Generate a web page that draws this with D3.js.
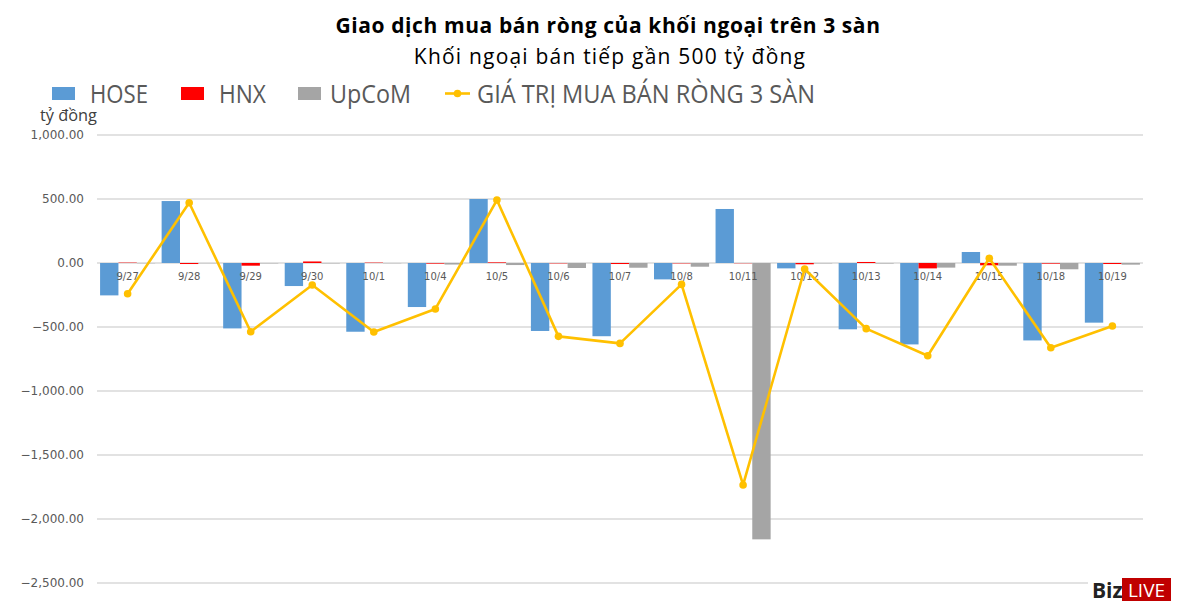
<!DOCTYPE html>
<html>
<head>
<meta charset="utf-8">
<script src="https://cdn.jsdelivr.net/npm/d3@7"></script>
<style>
  body { margin: 0; background: #fff; }
  svg { display: block; }
</style>
</head>
<body>
<div id="chart"></div>
<script>
// dates of the trading sessions
const dates = ['9/27', '9/28', '9/29', '9/30', '10/1', '10/4', '10/5', '10/6', '10/7',
    '10/8', '10/11', '10/12', '10/13', '10/14', '10/15', '10/18', '10/19'];

// net buy/sell per exchange, tỷ đồng
const hose = [-253, 484, -511, -180, -537, -344, 500, -531, -572, -128, 422, -42, -518, -636, 86, -605, -466];
const hnx = [3, -8, -21, 12, 3, -5, 5, -3, -8, -3, -2, -10, 8, -42, -18, -5, -8];
const upcom = [-2, -2, -3, -3, -2, -12, -16, -39, -37, -29, -2159, -3, -4, -36, -21, -49, -13];
const total = [-240, 471, -537, -172, -539, -359, 492, -573, -628, -167, -1734, -47, -513, -725, 37, -662, -492];

const yTicks = [1000, 500, 0, -500, -1000, -1500, -2000, -2500];

const series = [
    {name: 'HOSE', values: hose, color: '#5B9BD5'},
    {name: 'HNX', values: hnx, color: '#FF0000'},
    {name: 'UpCoM', values: upcom, color: '#A5A5A5'}
];
const lineName = 'GIÁ TRỊ MUA BÁN RÒNG 3 SÀN';
const lineColor = '#FFC000';

const width = 1200;
const height = 615;
const margin = {left: 97, right: 57, top: 135, bottom: 32};

const svg = d3.select('#chart').append('svg')
    .attr('width', width)
    .attr('height', height);

// title block
svg.append('text')
    .attr('x', 608).attr('y', 33)
    .attr('text-anchor', 'middle')
    .style('font-family', 'Open Sans, sans-serif')
    .style('font-weight', 'bold')
    .style('font-size', '21px')
    .style('letter-spacing', '0.6px')
    .attr('fill', '#000')
    .text('Giao dịch mua bán ròng của khối ngoại trên 3 sàn');

svg.append('text')
    .attr('x', 610).attr('y', 64)
    .attr('text-anchor', 'middle')
    .style('font-family', 'Open Sans, sans-serif')
    .style('font-size', '21px')
    .style('letter-spacing', '1.2px')
    .attr('fill', '#000')
    .text('Khối ngoại bán tiếp gần 500 tỷ đồng');

const x = d3.scaleBand()
    .domain(dates)
    .range([margin.left, width - margin.right])
    .paddingInner(0.105)
    .paddingOuter(0.05);

const x1 = d3.scaleBand()
    .domain(series.map(s => s.name))
    .range([0, x.bandwidth()]);

const y = d3.scaleLinear()
    .domain([-2500, 1000])
    .range([583, 135]);

// gridlines
svg.append('g')
    .selectAll('line')
    .data(yTicks)
    .join('line')
    .attr('x1', margin.left)
    .attr('x2', width - margin.right)
    .attr('y1', d => y(d))
    .attr('y2', d => y(d))
    .attr('stroke', '#D9D9D9')
    .attr('stroke-width', 1.3);

// y axis labels
const yAxis = d3.axisLeft(y)
    .tickValues(yTicks)
    .tickSize(0)
    .tickPadding(0)
    .tickFormat(d3.format(',.2f'));

svg.append('g')
    .attr('transform', 'translate(84,0)')
    .call(yAxis)
    .call(g => g.select('.domain').remove())
    .selectAll('text')
    .style('font-family', 'DejaVu Sans, Verdana, sans-serif')
    .style('font-size', '12px')
    .attr('fill', '#595959');

svg.append('text')
    .attr('x', 40).attr('y', 121)
    .attr('textLength', 57)
    .attr('lengthAdjust', 'spacingAndGlyphs')
    .style('font-family', 'Open Sans, sans-serif')
    .style('font-size', '17px')
    .attr('fill', '#404040')
    .text('tỷ đồng');

// bars
const groups = svg.append('g')
    .selectAll('g')
    .data(series)
    .join('g')
    .attr('fill', d => d.color);

groups.selectAll('rect')
    .data(s => s.values.map((v, i) => ({name: s.name, date: dates[i], value: v})))
    .join('rect')
    .attr('x', d => x(d.date) + x1(d.name))
    .attr('width', x1.bandwidth())
    .attr('y', d => y(Math.max(0, d.value)))
    .attr('height', d => Math.abs(y(d.value) - y(0)));

// x category labels, sitting just below the zero line
svg.append('g')
    .selectAll('text')
    .data(dates)
    .join('text')
    .attr('x', d => x(d) + x.bandwidth() / 2)
    .attr('y', y(0) + 17)
    .attr('text-anchor', 'middle')
    .style('font-family', 'DejaVu Sans, Verdana, sans-serif')
    .style('font-size', '10px')
    .attr('fill', '#595959')
    .text(d => d);

// total line
const line = d3.line()
    .x((d, i) => x(dates[i]) + x.bandwidth() / 2)
    .y(d => y(d));

svg.append('path')
    .datum(total)
    .attr('d', line)
    .attr('fill', 'none')
    .attr('stroke', lineColor)
    .attr('stroke-width', 2.6)
    .attr('stroke-linejoin', 'round');

svg.append('g')
    .selectAll('circle')
    .data(total)
    .join('circle')
    .attr('cx', (d, i) => x(dates[i]) + x.bandwidth() / 2)
    .attr('cy', d => y(d))
    .attr('r', 3.8)
    .attr('fill', lineColor);

// legend (text widths pinned to the reference, fonts differ)
const legend = svg.append('g')
    .style('font-family', 'Open Sans, sans-serif')
    .style('font-size', '25px')
    .attr('fill', '#595959');

const legendX = [52, 181, 298];
const legendTextX = [90, 219, 330];
const legendTextW = [58, 47, 81];
series.forEach((s, i) => {
    legend.append('rect')
        .attr('x', legendX[i]).attr('y', 87)
        .attr('width', 23).attr('height', 13)
        .attr('fill', s.color);
    legend.append('text')
        .attr('x', legendTextX[i]).attr('y', 103)
        .attr('textLength', legendTextW[i])
        .attr('lengthAdjust', 'spacingAndGlyphs')
        .text(s.name);
});

legend.append('line')
    .attr('x1', 445).attr('x2', 470)
    .attr('y1', 93.5).attr('y2', 93.5)
    .attr('stroke', lineColor)
    .attr('stroke-width', 2.6);
legend.append('circle')
    .attr('cx', 457.5).attr('cy', 93.5)
    .attr('r', 3.8)
    .attr('fill', lineColor);
legend.append('text')
    .attr('x', 477).attr('y', 103)
    .attr('textLength', 338)
    .attr('lengthAdjust', 'spacingAndGlyphs')
    .text(lineName);

// BizLIVE badge, bottom right
const logo = svg.append('g');
logo.append('rect')
    .attr('x', 1088).attr('y', 574)
    .attr('width', 90).attr('height', 30)
    .attr('fill', '#fff');
logo.append('text')
    .attr('x', 1092).attr('y', 598)
    .style('font-family', 'Open Sans, sans-serif')
    .style('font-weight', 'bold')
    .style('font-size', '21px')
    .attr('fill', '#222')
    .text('Biz');
logo.append('rect')
    .attr('x', 1122).attr('y', 578)
    .attr('width', 49).attr('height', 23)
    .attr('fill', '#C00000');
logo.append('text')
    .attr('x', 1146.5).attr('y', 597)
    .attr('text-anchor', 'middle')
    .style('font-family', 'Open Sans, sans-serif')
    .style('font-size', '19px')
    .attr('fill', '#fff')
    .text('LIVE');
</script>
</body>
</html>
